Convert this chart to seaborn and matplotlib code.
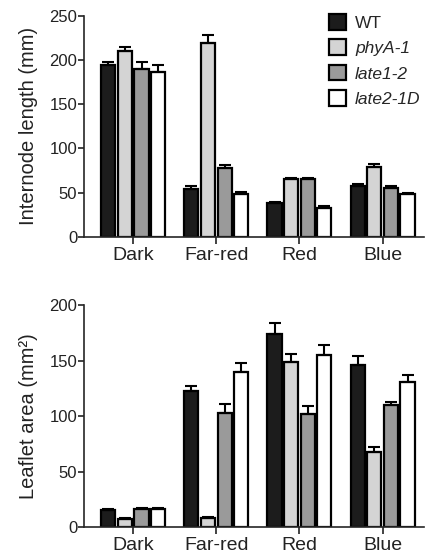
import matplotlib
matplotlib.use('Agg')
import matplotlib.pyplot as plt
import seaborn as sns
import pandas as pd
import numpy as np

# data
conditions = ['Dark', 'Far-red', 'Red', 'Blue']
genotypes = ['WT', 'phyA-1', 'late1-2', 'late2-1D']

internode = {
    'WT':       [194, 54, 38, 58],
    'phyA-1':   [210, 219, 65, 79],
    'late1-2':  [190, 78, 65, 55],
    'late2-1D': [186, 48, 33, 48],
}
internode_err = {
    'WT':       [4, 4, 2, 2],
    'phyA-1':   [5, 9, 2, 3],
    'late1-2':  [8, 3, 2, 2],
    'late2-1D': [9, 3, 2, 2],
}
leaflet = {
    'WT':       [15, 123, 174, 146],
    'phyA-1':   [7, 8, 149, 68],
    'late1-2':  [16, 103, 102, 110],
    'late2-1D': [16, 140, 155, 131],
}
leaflet_err = {
    'WT':       [1, 4, 10, 8],
    'phyA-1':   [1, 1, 7, 4],
    'late1-2':  [1, 8, 7, 3],
    'late2-1D': [1.5, 8, 9, 6],
}

colors = {'WT': '#1c1c1c', 'phyA-1': '#d4d4d4', 'late1-2': '#9a9a9a', 'late2-1D': '#ffffff'}

sns.set_style('ticks')
plt.rcParams['font.family'] = ['Liberation Sans', 'DejaVu Sans']


def to_long(values):
    rows = []
    for g in genotypes:
        for c, v in zip(conditions, values[g]):
            rows.append({'condition': c, 'genotype': g, 'value': v})
    return pd.DataFrame(rows)


def draw_panel(ax, values, errs, ymax, ylabel):
    df = to_long(values)
    sns.barplot(data=df, x='condition', y='value', hue='genotype', order=conditions,
                hue_order=genotypes, palette=colors, edgecolor='black', linewidth=1.6,
                gap=0.15, errorbar=None, legend=False, ax=ax)
    # one-sided error bars on top of each bar
    for i, g in enumerate(genotypes):
        bars = ax.containers[i]
        xs = [b.get_x() + b.get_width() / 2 for b in bars]
        err = np.array(errs[g])
        ax.errorbar(xs, values[g], yerr=[np.zeros_like(err), err], fmt='none',
                    ecolor='black', elinewidth=1.5, capsize=4.5, capthick=1.5, zorder=3)
    ax.set_xlim(-0.59, 3.5)
    ax.set_ylim(0, ymax)
    ax.set_yticks(np.arange(0, ymax + 1, 50))
    ax.set_xlabel('')
    ax.set_ylabel(ylabel, fontsize=14.5, color='#222222', labelpad=8)
    sns.despine(ax=ax)
    for s in ['left', 'bottom']:
        ax.spines[s].set_linewidth(1.2)
    ax.tick_params(axis='y', labelsize=12, length=4, width=1.2, pad=1, colors='#222222')
    ax.tick_params(axis='x', labelsize=14, length=5, width=1.2, pad=2.5, colors='#222222')


fig = plt.figure(figsize=(4.25, 5.6), dpi=100)
ax1 = fig.add_axes([0.198, 0.577, 0.8, 0.3946])
ax2 = fig.add_axes([0.198, 0.059, 0.8, 0.396])

draw_panel(ax1, internode, internode_err, 250, 'Internode length (mm)')
draw_panel(ax2, leaflet, leaflet_err, 200, 'Leaflet area (mm²)')

handles = [ax1.containers[i][0] for i in range(len(genotypes))]
leg = ax1.legend(handles, genotypes, loc='upper right', bbox_to_anchor=(1.01, 1.04),
                 frameon=False, fontsize=12.5, handlelength=1.0, handleheight=1.0,
                 handletextpad=0.5, labelspacing=0.5, borderaxespad=0)
for t in leg.get_texts()[1:]:
    t.set_style('italic')

fig.savefig('out.png', dpi=100)
